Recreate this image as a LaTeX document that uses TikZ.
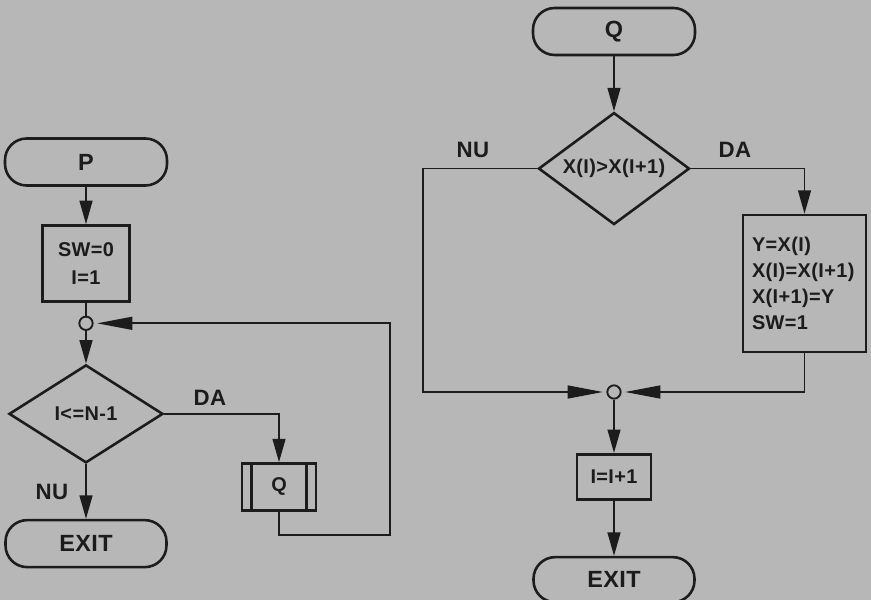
\documentclass[tikz,border=0pt]{standalone}
\usepackage{fontspec}
\setmainfont{Liberation Sans}[LetterSpace=2]
\usepackage{tikz}
\usetikzlibrary{positioning,shapes.geometric,arrows.meta,calc}
\definecolor{paper}{RGB}{183,183,183}
\definecolor{ink}{RGB}{28,28,28}

\begin{document}
\begin{tikzpicture}[x=0.03cm,y=-0.03cm,
    every node/.style={font=\fontsize{17}{24}\selectfont\bfseries,text=ink},
    term/.style={draw=ink,line width=2.2pt,rounded corners=0.65cm,minimum width=4.86cm,minimum height=1.41cm,font=\fontsize{20}{24}\selectfont\bfseries},
    proc/.style={draw=ink,line width=2.2pt,inner sep=0.27cm},
    decision/.style={draw=ink,line width=2.2pt,diamond,aspect=1.4,inner sep=0pt},
    junc/.style={draw=ink,line width=1.6pt,circle,fill=paper,minimum size=0.4cm,inner sep=0pt},
    lbl/.style={font=\fontsize{19}{22}\selectfont\bfseries},
    conn/.style={draw=ink,line width=1.4pt},
    arr/.style={-{Triangle[length=20pt,width=11pt]}},
    arrlong/.style={-{Triangle[length=30pt,width=11pt]},shorten >=3pt}]
    \fill[paper] (0,0) rectangle (871,600);
    \useasboundingbox (0,0) rectangle (871,600);
    % procedure P
    \node[term] (p) at (86,162) {P};
    \node[proc,minimum width=2.61cm,minimum height=2.28cm,align=center,below=1.12cm of p] (init) {SW=0\\I=1};
    \node[junc,below=0.39cm of init] (j1) {};
    \node[decision,minimum width=4.62cm,minimum height=2.94cm,below=0.98cm of j1] (test) {I<=N-1};
    \node[term,minimum width=4.83cm,below=1.64cm of test] (exit1) {EXIT};
    \node[proc,minimum width=2.22cm,minimum height=1.41cm] (qsub) at (279,487) {Q};
    \draw[draw=ink,line width=2.2pt] ([xshift=0.33cm]qsub.north west) -- ([xshift=0.33cm]qsub.south west);
    \draw[draw=ink,line width=2.2pt] ([xshift=-0.33cm]qsub.north east) -- ([xshift=-0.33cm]qsub.south east);
    \node[lbl] (da1) at (210,398) {DA};
    \node[lbl] (nu1) at (52,492) {NU};
    \coordinate (back) at (390,535);
    \draw[conn,arr] (p) -- (init);
    \draw[conn] (init) -- (j1);
    \draw[conn,arr] (j1) -- (test);
    \draw[conn,arr] (test) -- (exit1);
    \draw[conn,arr] (test.east) -| (qsub);
    \draw[conn,arrlong] (qsub) |- (back) |- (j1);
    % procedure Q
    \node[term] (q) at (614,31.5) {Q};
    \node[decision,minimum width=4.53cm,minimum height=3.36cm,below=1.65cm of q] (cmp) {X(I)>X(I+1)};
    \node[junc] (j2) at (614,392) {};
    \node[proc,minimum width=2.22cm,minimum height=1.35cm,below=1.6cm of j2] (inc) {I=I+1};
    \node[term,minimum width=4.83cm,minimum height=1.35cm,below=1.66cm of inc] (exit2) {EXIT};
    \node[proc,minimum width=3.69cm,minimum height=4.11cm,text width=3.15cm,align=left,font=\fontsize{17}{22}\selectfont\bfseries] (swap) at (804.5,283.5) {Y=X(I)\\X(I)=X(I+1)\\X(I+1)=Y\\SW=1};
    \node[lbl] (nu2) at (473,150) {NU};
    \node[lbl] (da2) at (735,150) {DA};
    \coordinate (nuc) at (423,392);
    \draw[conn,arr] (q) -- (cmp);
    \draw[conn,arrlong] (cmp.west) -| (nuc) -- (j2);
    \draw[conn,arr] (cmp.east) -| (swap);
    \draw[conn,arrlong] (swap) |- (j2);
    \draw[conn,arr] (j2) -- (inc);
    \draw[conn,arr] (inc) -- (exit2);
\end{tikzpicture}
\end{document}
